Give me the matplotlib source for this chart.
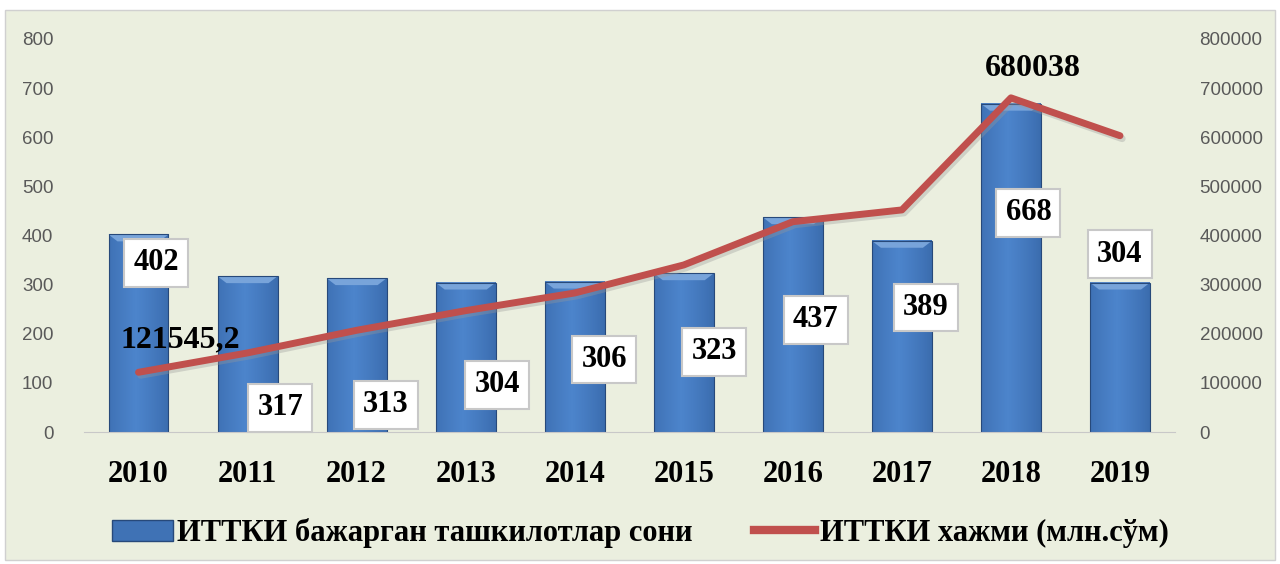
import numpy as np
import matplotlib.pyplot as plt
from matplotlib.patches import Rectangle, Patch
from matplotlib.lines import Line2D

years = ['2010', '2011', '2012', '2013', '2014', '2015', '2016', '2017', '2018', '2019']
org_count = [402, 317, 313, 304, 306, 323, 437, 389, 668, 304]
volume = [121545.2, 161000, 207000, 247000, 283000, 340000, 428000, 452000, 680038, 603000]

bar_label = 'ИТТКИ бажарган ташкилотлар сони'
line_label = 'ИТТКИ хажми (млн.сўм)'

# where the boxed labels sit (offset in x, y in left-axis units)
box_dx = [0.16, 0.30, 0.27, 0.29, 0.27, 0.28, 0.21, 0.22, 0.16, 0.0]
box_y = [344, 49, 55, 96, 147, 163, 228, 253, 446, 362]

bg = '#ebefdf'
tick_col = '#595959'

fig = plt.figure(figsize=(12.8, 5.64), dpi=100, facecolor='white')
fig.patches.append(Rectangle((5 / 1280, 4 / 564), 1270 / 1280, 550 / 564,
                             transform=fig.transFigure, facecolor=bg,
                             edgecolor='#d0d0d0', lw=1, zorder=-10))

ax = fig.add_axes([0.0656, 0.234, 0.852, 0.697])
ax.set_facecolor('none')
ax2 = ax.twinx()

x = np.arange(len(years))
width = 0.55

# gradient fill for bars
grad = np.linspace(0, 1, 64)
prof = 1 - np.abs(grad - 0.45) * 1.3
prof = np.clip(prof, 0, 1) ** 0.6
c_dark = np.array([0.17, 0.34, 0.58])
c_light = np.array([0.30, 0.52, 0.80])
img = c_dark + (c_light - c_dark) * prof[:, None]
img = img[None, :, :]

bars = ax.bar(x, org_count, width=width, color='#3f72b5', zorder=2)
for b in bars:
    x0, w, h = b.get_x(), b.get_width(), b.get_height()
    ax.imshow(img, extent=[x0, x0 + w, 0, h], aspect='auto', zorder=2.1,
              interpolation='bilinear')
    top = 14
    ax.fill([x0, x0 + w, x0 + w * 0.85, x0 + w * 0.15], [h, h, h - top, h - top],
            color='#78a4da', lw=0, zorder=2.2)
    ax.add_patch(Rectangle((x0, 0), w, h, facecolor='none',
                           edgecolor='#27497a', lw=0.8, zorder=2.3))

ax.set_xlim(-0.5, len(years) - 0.5)
ax.set_ylim(0, 800)
ax.set_yticks(range(0, 801, 100))
ax2.set_ylim(0, 800000)
ax2.set_yticks(range(0, 800001, 100000))

# shadow + line
ax2.plot(x + 0.02, np.array(volume) - 6000, color='#999999', lw=5, alpha=0.35,
         solid_capstyle='round', solid_joinstyle='round', zorder=3)
ax2.plot(x, volume, color='#c0504d', lw=5, solid_capstyle='round',
         solid_joinstyle='round', zorder=4)

for i, v in enumerate(org_count):
    ax2.text(x[i] + box_dx[i], box_y[i] * 1000, str(v), ha='center', va='center',
             fontsize=22, fontweight='bold', family='Liberation Serif', zorder=6,
             bbox=dict(boxstyle='square,pad=0.3', facecolor='white',
                       edgecolor='#c8c8c8', lw=1.5))

ax2.text(x[0] + 0.38, 188000, '121545,2', ha='center', va='center', fontsize=23,
         fontweight='bold', family='Liberation Serif', zorder=6)
ax2.text(x[8] + 0.2, 740000, '680038', ha='center', va='center', fontsize=23,
         fontweight='bold', family='Liberation Serif', zorder=6)

for a in (ax, ax2):
    for s in a.spines.values():
        s.set_visible(False)
    a.tick_params(length=0, labelsize=13.5, labelcolor=tick_col)
ax.spines['bottom'].set_visible(True)
ax.spines['bottom'].set_color('#c8c8c8')
ax.tick_params(axis='y', pad=22)
ax2.tick_params(axis='y', pad=18)

ax.set_xticks(x)
ax.set_xticklabels(years, fontsize=22, fontweight='bold', family='Liberation Serif',
                   color='black')
ax.tick_params(axis='x', pad=20, labelcolor='black')

for lab in ax.get_yticklabels() + ax2.get_yticklabels():
    lab.set_family('Liberation Sans')

handles = [Patch(facecolor='#3f72b5', edgecolor='#27497a'),
           Line2D([0], [0], color='#c0504d', lw=6)]
fig.legend(handles, [bar_label, line_label], loc='center', bbox_to_anchor=(0.5, 0.055),
           ncol=2, frameon=False, prop=dict(family='Liberation Serif', weight='bold', size=22),
           handlelength=2.0, handletextpad=0.15, columnspacing=2.0)

fig.savefig('out.png', dpi=100, facecolor=fig.get_facecolor())
